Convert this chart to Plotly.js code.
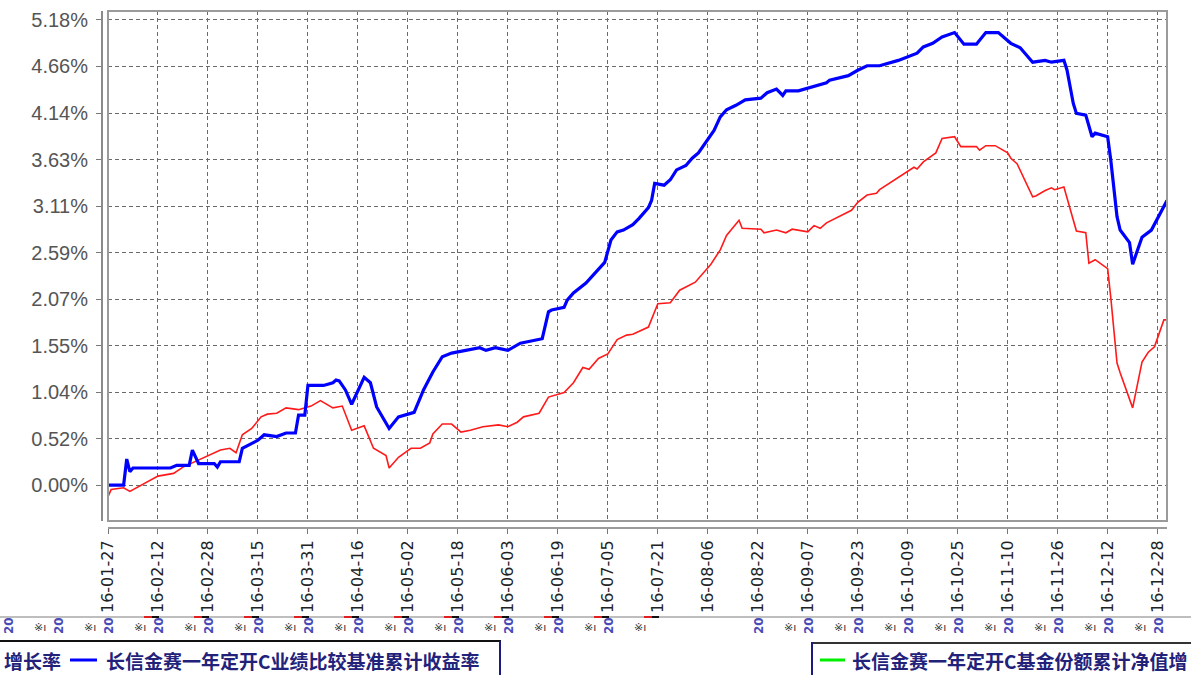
<!DOCTYPE html>
<html><head><meta charset="utf-8">
<script src="https://cdn.plot.ly/plotly-3.0.1.min.js"></script>
<style>html,body{margin:0;padding:0;background:#fff;overflow:hidden}#chart{width:1191px;height:675px}</style>
</head><body><div id="chart"></div>
<script>
// ---- data ----
const blueName = '长信金赛一年定开C业绩比较基准累计收益率';
const redName = '长信金赛一年定开C基金份额累计净值增长率';
const greenLegendText = '长信金赛一年定开C基金份额累计净值增';
const cutLegendText = '增长率';

const blueDates = ['2016-01-27','2016-02-01','2016-02-02','2016-02-03','2016-02-04','2016-02-16','2016-02-18','2016-02-22','2016-02-23','2016-02-25','2016-03-01','2016-03-02','2016-03-03','2016-03-09','2016-03-10','2016-03-15','2016-03-17','2016-03-21','2016-03-24','2016-03-27','2016-03-28','2016-03-30','2016-03-31','2016-04-05','2016-04-08','2016-04-09','2016-04-10','2016-04-12','2016-04-14','2016-04-16','2016-04-18','2016-04-20','2016-04-22','2016-04-26','2016-04-29','2016-05-04','2016-05-07','2016-05-10','2016-05-13','2016-05-16','2016-05-21','2016-05-25','2016-05-27','2016-05-30','2016-06-03','2016-06-07','2016-06-14','2016-06-16','2016-06-17','2016-06-21','2016-06-22','2016-06-24','2016-06-28','2016-07-01','2016-07-04','2016-07-06','2016-07-08','2016-07-10','2016-07-13','2016-07-15','2016-07-18','2016-07-19','2016-07-20','2016-07-23','2016-07-25','2016-07-27','2016-07-30','2016-08-01','2016-08-03','2016-08-08','2016-08-10','2016-08-12','2016-08-15','2016-08-18','2016-08-23','2016-08-25','2016-08-28','2016-08-30','2016-08-31','2016-09-04','2016-09-09','2016-09-13','2016-09-14','2016-09-20','2016-09-23','2016-09-26','2016-09-30','2016-10-06','2016-10-12','2016-10-14','2016-10-17','2016-10-20','2016-10-24','2016-10-27','2016-10-31','2016-11-03','2016-11-07','2016-11-11','2016-11-14','2016-11-18','2016-11-22','2016-11-24','2016-11-28','2016-11-29','2016-12-01','2016-12-02','2016-12-05','2016-12-07','2016-12-08','2016-12-12','2016-12-13','2016-12-15','2016-12-16','2016-12-19','2016-12-20','2016-12-23','2016-12-26','2016-12-31'];
const blueValues = [0.00,0.00,0.29,0.15,0.19,0.19,0.22,0.22,0.39,0.24,0.24,0.20,0.26,0.26,0.41,0.50,0.56,0.54,0.58,0.58,0.78,0.78,1.11,1.11,1.14,1.17,1.16,1.06,0.90,1.04,1.20,1.14,0.87,0.63,0.76,0.81,1.06,1.26,1.43,1.47,1.50,1.53,1.50,1.53,1.50,1.58,1.63,1.93,1.95,1.98,2.06,2.14,2.25,2.37,2.48,2.73,2.82,2.84,2.90,2.97,3.09,3.17,3.36,3.34,3.40,3.51,3.56,3.64,3.70,3.95,4.10,4.18,4.23,4.29,4.31,4.37,4.41,4.34,4.39,4.39,4.44,4.48,4.51,4.56,4.62,4.67,4.67,4.73,4.81,4.88,4.92,4.99,5.04,4.91,4.91,5.04,5.04,4.92,4.87,4.71,4.73,4.71,4.73,4.62,4.25,4.14,4.12,3.88,3.92,3.88,3.62,2.99,2.84,2.70,2.46,2.76,2.84,3.17];

const redDates = ['2016-01-27','2016-01-28','2016-02-01','2016-02-03','2016-02-12','2016-02-16','2016-02-17','2016-02-20','2016-02-25','2016-03-03','2016-03-06','2016-03-08','2016-03-10','2016-03-13','2016-03-16','2016-03-18','2016-03-21','2016-03-24','2016-03-28','2016-04-01','2016-04-04','2016-04-08','2016-04-11','2016-04-14','2016-04-18','2016-04-21','2016-04-25','2016-04-26','2016-04-29','2016-05-03','2016-05-06','2016-05-09','2016-05-10','2016-05-13','2016-05-16','2016-05-19','2016-05-22','2016-05-26','2016-05-31','2016-06-03','2016-06-06','2016-06-08','2016-06-13','2016-06-16','2016-06-21','2016-06-24','2016-06-27','2016-06-29','2016-07-02','2016-07-05','2016-07-08','2016-07-11','2016-07-13','2016-07-18','2016-07-21','2016-07-25','2016-07-28','2016-08-02','2016-08-07','2016-08-10','2016-08-12','2016-08-16','2016-08-17','2016-08-23','2016-08-24','2016-08-28','2016-08-31','2016-09-02','2016-09-07','2016-09-09','2016-09-11','2016-09-13','2016-09-21','2016-09-23','2016-09-26','2016-09-29','2016-09-30','2016-10-11','2016-10-12','2016-10-14','2016-10-18','2016-10-20','2016-10-24','2016-10-26','2016-10-31','2016-11-01','2016-11-03','2016-11-06','2016-11-10','2016-11-11','2016-11-13','2016-11-15','2016-11-18','2016-11-19','2016-11-22','2016-11-24','2016-11-25','2016-11-28','2016-12-02','2016-12-05','2016-12-06','2016-12-08','2016-12-12','2016-12-13','2016-12-15','2016-12-16','2016-12-18','2016-12-20','2016-12-23','2016-12-25','2016-12-27','2016-12-30','2016-12-31'];
const redValues = [-0.13,-0.05,-0.03,-0.07,0.10,0.13,0.13,0.20,0.28,0.39,0.41,0.36,0.56,0.63,0.76,0.79,0.80,0.86,0.84,0.88,0.94,0.86,0.88,0.61,0.66,0.41,0.33,0.19,0.31,0.41,0.41,0.47,0.57,0.68,0.68,0.59,0.61,0.65,0.67,0.65,0.70,0.76,0.80,0.98,1.03,1.14,1.31,1.29,1.41,1.46,1.62,1.67,1.68,1.76,2.02,2.03,2.17,2.26,2.46,2.62,2.78,2.95,2.86,2.85,2.81,2.84,2.81,2.85,2.82,2.89,2.86,2.92,3.06,3.15,3.23,3.25,3.29,3.54,3.52,3.60,3.70,3.86,3.88,3.77,3.77,3.73,3.78,3.78,3.70,3.64,3.58,3.43,3.21,3.22,3.28,3.31,3.29,3.32,2.83,2.81,2.47,2.51,2.41,2.09,1.36,1.25,1.06,0.86,1.37,1.48,1.54,1.84,1.84];

const xTickLabels = ['16-01-27','16-02-12','16-02-28','16-03-15','16-03-31','16-04-16','16-05-02','16-05-18','16-06-03','16-06-19','16-07-05','16-07-21','16-08-06','16-08-22','16-09-07','16-09-23','16-10-09','16-10-25','16-11-10','16-11-26','16-12-12','16-12-28'];
const yTickValues = [0, 0.518, 1.036, 1.554, 2.072, 2.59, 3.108, 3.626, 4.144, 4.662, 5.18];
const yTickLabels = ['0.00%','0.52%','1.04%','1.55%','2.07%','2.59%','3.11%','3.63%','4.14%','4.66%','5.18%'];

// ---- layout helpers (pixel -> paper) ----
const W = 1191, H = 675, L = 102, R = 1167, T = 11, B = 528;
const px = x => (x - L) / (R - L);
const py = y => (B - y) / (B - T);

const xTickVals = xTickLabels.map(s => '20' + s);

const traces = [
  {x: redDates, y: redValues, type: 'scatter', mode: 'lines', name: redName,
   line: {color: '#ff1a1a', width: 1.6}, hoverinfo: 'skip'},
  {x: blueDates, y: blueValues, type: 'scatter', mode: 'lines', name: blueName,
   line: {color: '#0000ff', width: 3.2}, hoverinfo: 'skip'}
];

const shapes = [
  {type: 'rect', xref: 'paper', yref: 'paper', x0: px(108), x1: 1, y0: py(521), y1: 1,
   line: {color: '#9a9a9a', width: 2}, layer: 'above'},
  {type: 'line', xref: 'paper', yref: 'paper', x0: px(0), x1: px(1191), y0: py(617), y1: py(617),
   line: {color: '#a8a8a8', width: 1.5}},
  {type: 'line', xref: 'paper', yref: 'paper', x0: px(0), x1: px(501), y0: py(641), y1: py(641),
   line: {color: '#111', width: 2}},
  {type: 'line', xref: 'paper', yref: 'paper', x0: px(500), x1: px(500), y0: py(641), y1: py(676),
   line: {color: '#1a1a80', width: 2}},
  {type: 'line', xref: 'paper', yref: 'paper', x0: px(70), x1: px(97), y0: py(660), y1: py(660),
   line: {color: '#0000ff', width: 3}},
  {type: 'line', xref: 'paper', yref: 'paper', x0: px(811), x1: px(1191), y0: py(643), y1: py(643),
   line: {color: '#333', width: 2}},
  {type: 'line', xref: 'paper', yref: 'paper', x0: px(812), x1: px(812), y0: py(642), y1: py(676),
   line: {color: '#1a1a80', width: 2}},
  {type: 'line', xref: 'paper', yref: 'paper', x0: px(820), x1: px(845), y0: py(660), y1: py(660),
   line: {color: '#00ee00', width: 3}}
];

const legendFont = {family: 'Noto Sans CJK SC', size: 19, color: '#22227a', weight: 700};
const annotations = [
  {xref: 'paper', yref: 'paper', x: px(63), y: py(660), xanchor: 'right', yanchor: 'middle',
   text: cutLegendText, showarrow: false, font: legendFont},
  {xref: 'paper', yref: 'paper', x: px(104), y: py(660), xanchor: 'left', yanchor: 'middle',
   text: blueName, showarrow: false, font: legendFont},
  {xref: 'paper', yref: 'paper', x: px(850), y: py(660), xanchor: 'left', yanchor: 'middle',
   text: greenLegendText, showarrow: false, font: legendFont}
];
// clipped label fragments of a hidden second label row
for (let k = -2; k < xTickLabels.length; k++) {
  const X = 108 + k * 50;
  if (k > -2 && k !== 12 && k !== 13) {
    annotations.push({xref: 'paper', yref: 'paper', x: px(X - 18), y: py(627), xanchor: 'center', yanchor: 'middle',
      text: '※ı', showarrow: false, font: {family: 'DejaVu Sans', size: 11, color: '#333'}});
  }
  if (k !== 11 && k !== 12) {
    annotations.push({xref: 'paper', yref: 'paper', x: px(X + 1), y: py(626), xanchor: 'center', yanchor: 'middle',
      text: '<b>20</b>', textangle: -90, showarrow: false, font: {family: 'DejaVu Sans', size: 12, color: '#4a4ab8'}});
  }
  if (k >= 1 && k <= 11) {
    shapes.push({type: 'line', xref: 'paper', yref: 'paper', x0: px(X - 14), x1: px(X - 6), y0: py(617), y1: py(617),
      line: {color: '#e02020', width: 2}});
    shapes.push({type: 'line', xref: 'paper', yref: 'paper', x0: px(X - 6), x1: px(X + 1), y0: py(617), y1: py(617),
      line: {color: '#111', width: 2}});
  }
}

const layout = {
  width: W, height: H,
  margin: {l: L, r: W - R, t: T, b: H - B, pad: 0},
  paper_bgcolor: '#fff', plot_bgcolor: '#fff',
  showlegend: false,
  xaxis: {
    type: 'date', domain: [px(108), 1], anchor: 'free', position: 0,
    range: ['2016-01-27', '2016-12-31'],
    tickmode: 'array', tickvals: xTickVals, ticktext: xTickLabels,
    tickangle: -90, ticks: 'outside', ticklen: 5, tickwidth: 1, tickcolor: '#777',
    showline: true, linecolor: '#9a9a9a', linewidth: 2,
    showgrid: true, gridcolor: '#6a6a6a', gridwidth: 1, griddash: '4px,3px',
    zeroline: false,
    tickfont: {family: 'DejaVu Sans', size: 16, color: '#222'}
  },
  yaxis: {
    domain: [py(521), 1], anchor: 'free', position: 0,
    range: [-0.40, 5.28],
    tickmode: 'array', tickvals: yTickValues, ticktext: yTickLabels,
    ticks: 'outside', ticklen: 5, tickwidth: 1, tickcolor: '#777',
    ticklabelstandoff: 4,
    showline: true, linecolor: '#8a8a8a', linewidth: 2,
    showgrid: true, gridcolor: '#6a6a6a', gridwidth: 1, griddash: '4px,3px',
    zeroline: false,
    tickfont: {family: 'Liberation Sans', size: 20, color: '#555'}
  },
  shapes: shapes,
  annotations: annotations
};

Plotly.newPlot('chart', traces, layout, {staticPlot: true, displayModeBar: false});
</script>
</body></html>
